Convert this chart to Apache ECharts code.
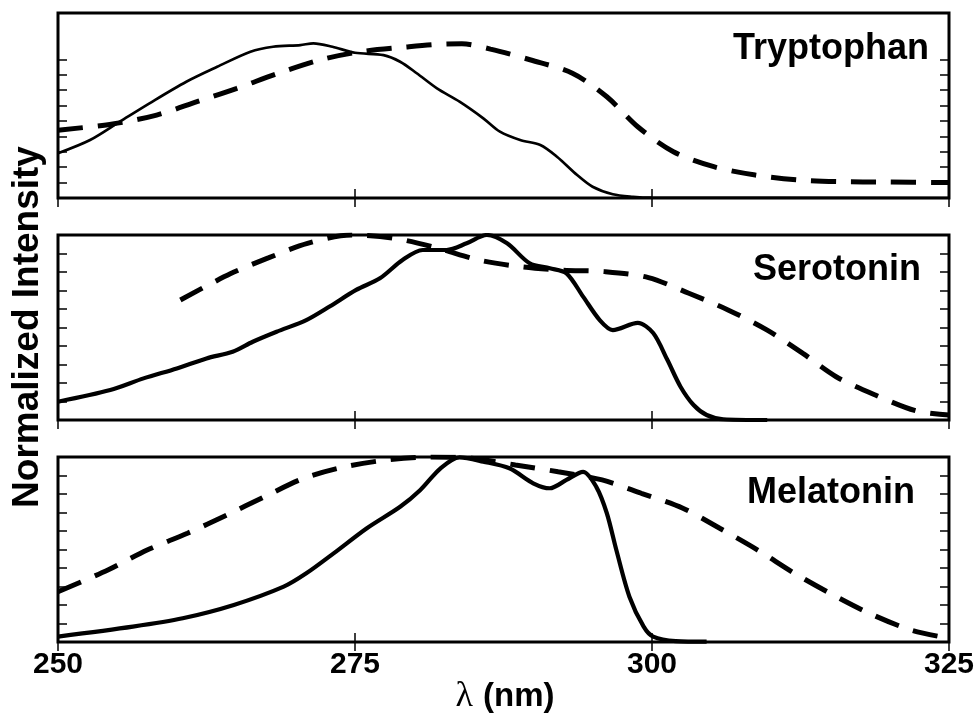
<!DOCTYPE html>
<html lang="en">
<head>
    <meta charset="UTF-8">
    <title>Spectra</title>
    <script src="https://cdn.jsdelivr.net/npm/echarts@6/dist/echarts.min.js"></script>
    <style>
        html, body { margin: 0; padding: 0; background: #fff; }
        #chart_box { width: 977px; height: 717px; }
    </style>
</head>
<body>
<div id="chart_box"></div>
<script>
    // x axis
    var xTicks = [250, 275, 300, 325];

    // Tryptophan
    var trpSolidX = [250, 252.7, 255.2, 257.7, 260.8, 263.4, 266.2, 268.1, 270.4, 271.5, 273.1, 275, 277.4, 278.8, 280.2, 281.9, 283.8, 285.8, 287.2, 288.9, 290.6, 292, 293.7, 295, 296.7, 298.4, 300, 325];
    var trpSolidY = [2.9, 3.76, 4.95, 6.14, 7.54, 8.51, 9.49, 9.81, 9.92, 10.03, 9.81, 9.42, 9.27, 8.84, 8.09, 7.11, 6.25, 5.17, 4.3, 3.76, 3.44, 2.68, 1.49, 0.73, 0.24, 0.08, 0.02, 0];
    var trpDashX = [250, 254.6, 258.3, 261.7, 265, 268.5, 272, 275.5, 279, 282.7, 284, 286.4, 289.8, 293.3, 296.2, 298.8, 301.8, 305.2, 308.7, 312.4, 315.9, 319.6, 325];
    var trpDashY = [4.4, 4.8, 5.38, 6.25, 7.1, 8.08, 8.95, 9.49, 9.77, 9.99, 10.0, 9.66, 8.95, 8.09, 6.57, 4.62, 3.0, 2.03, 1.49, 1.17, 1.06, 1.04, 1.0];

    // Serotonin
    var serSolidX = [250, 254.4, 257.2, 260, 262.5, 264.7, 266.4, 268.4, 270.9, 272.9, 275.1, 277.1, 279, 280.7, 282.7, 284.4, 286.1, 287.8, 289.7, 291.4, 292.8, 294.2, 295.6, 296.7, 298.8, 300.1, 301.3, 302.4, 303.5, 304.6, 306, 309.7];
    var serSolidY = [0.99, 1.62, 2.25, 2.79, 3.33, 3.69, 4.23, 4.77, 5.4, 6.15, 7.03, 7.66, 8.65, 9.19, 9.19, 9.55, 10.0, 9.55, 8.47, 8.2, 7.93, 6.67, 5.4, 4.86, 5.25, 4.7, 3.24, 1.8, 0.81, 0.27, 0.04, 0];
    var serDashX = [260.3, 264.5, 267.7, 271, 274.7, 278.3, 281.9, 285.4, 288.9, 292.5, 296, 299.7, 303.1, 306.4, 309.7, 312.7, 315.5, 318.8, 322.2, 325];
    var serDashY = [6.49, 7.9, 8.76, 9.55, 10.0, 9.82, 9.3, 8.65, 8.29, 8.1, 8.02, 7.7, 6.85, 5.95, 4.86, 3.6, 2.34, 1.35, 0.5, 0.27];

    // Melatonin
    var melSolidX = [250, 256.3, 260.5, 264.8, 269, 270.9, 273.2, 276, 278.8, 280.5, 282.2, 283.8, 285.8, 288, 290, 291.4, 292.8, 294.2, 295.3, 296.2, 297, 298.1, 299.3, 300.1, 302, 304.6];
    var melSolidY = [0.29, 0.83, 1.28, 2.0, 2.99, 3.71, 4.79, 6.15, 7.31, 8.22, 9.39, 9.98, 9.75, 9.39, 8.58, 8.31, 8.76, 9.2, 8.4, 6.96, 4.97, 2.45, 0.83, 0.29, 0.05, 0.02];
    var melDashX = [250, 254.2, 257.5, 260.9, 264.2, 267.4, 270.7, 274.2, 277.7, 281.3, 284.8, 288.5, 292.1, 295.8, 299.1, 302.6, 305.7, 308.9, 312, 315, 318.3, 321.8, 325];
    var melDashY = [2.72, 3.89, 4.97, 5.88, 6.86, 7.86, 8.85, 9.48, 9.84, 10.0, 9.93, 9.57, 9.2, 8.76, 8.04, 7.23, 6.15, 4.97, 3.71, 2.63, 1.55, 0.65, 0.2];

    var yTickVals = [1, 2, 3, 4, 5, 6, 7, 8, 9];
    var panelMax = [12, 10, 10];
    var panelNames = ['Tryptophan', 'Serotonin', 'Melatonin'];

    function zip(xs, ys) {
        var out = [];
        for (var i = 0; i < xs.length; i++) out.push([xs[i], ys[i]]);
        return out;
    }

    var FONT = '"Liberation Sans", Arial, sans-serif';
    var tops = [13, 235, 457];
    var grids = [], xAxes = [], yAxes = [];

    for (var p = 0; p < 3; p++) {
        grids.push({
            left: 58, top: tops[p], width: 891, height: 185,
            show: true, borderColor: '#000', borderWidth: 3, backgroundColor: 'transparent'
        });
        ['bottom', 'top'].forEach(function (pos) {
            var isLabelAxis = (p === 2 && pos === 'bottom');
            xAxes.push({
                type: 'value', gridIndex: p, position: pos,
                min: 250, max: 325, interval: 25,
                axisLine: {show: false},
                splitLine: {show: false},
                axisTick: {show: true, inside: true, length: 9, lineStyle: {color: '#000', width: 1.5}},
                axisLabel: {
                    show: isLabelAxis, margin: 8,
                    fontFamily: FONT, fontWeight: 'bold', fontSize: 30, color: '#000',
                    showMinLabel: true, showMaxLabel: true,
                    customValues: xTicks
                }
            });
        });
        ['left', 'right'].forEach(function (pos) {
            yAxes.push({
                type: 'value', gridIndex: p, position: pos,
                min: 0, max: panelMax[p], interval: 1,
                axisLine: {show: false},
                splitLine: {show: false},
                axisLabel: {show: false},
                axisTick: {show: true, inside: true, length: 9, customValues: yTickVals,
                    lineStyle: {color: '#000', width: 1.5}}
            });
        });
    }

    function lineSeries(panel, data, width, dashed) {
        return {
            type: 'line',
            xAxisIndex: panel * 2,
            yAxisIndex: panel * 2,
            data: data,
            showSymbol: false,
            smooth: 0.3,
            clip: true,
            lineStyle: {color: '#000', width: width, type: dashed ? [25, 15] : 'solid', cap: 'butt'}
        };
    }

    var series = [
        lineSeries(0, zip(trpDashX, trpDashY), 5, true),
        lineSeries(0, zip(trpSolidX, trpSolidY), 2.7, false),
        lineSeries(1, zip(serDashX, serDashY), 5, true),
        lineSeries(1, zip(serSolidX, serSolidY), 4.2, false),
        lineSeries(2, zip(melDashX, melDashY), 5, true),
        lineSeries(2, zip(melSolidX, melSolidY), 4.2, false)
    ];

    var labelPos = [[929, 49], [921, 270], [915, 493]];
    var graphics = panelNames.map(function (name, i) {
        return {
            type: 'text', x: labelPos[i][0], y: labelPos[i][1],
            style: {text: name, fontFamily: FONT, fontWeight: 'bold', fontSize: 36, fill: '#000',
                align: 'right', verticalAlign: 'middle'}
        };
    });
    graphics.push({
        type: 'text', x: 28, y: 327, rotation: Math.PI / 2,
        style: {text: 'Normalized Intensity', fontFamily: FONT, fontWeight: 'bold', fontSize: 37,
            fill: '#000', align: 'center', verticalAlign: 'middle'}
    });
    graphics.push({
        type: 'text', x: 505, y: 697,
        style: {
            text: '{l|λ}{s| }{b|(nm)}', align: 'center', verticalAlign: 'middle',
            rich: {
                l: {fontFamily: '"Liberation Serif", "DejaVu Serif", serif', fontSize: 36, fill: '#000'},
                s: {fontFamily: FONT, fontSize: 30, width: 10},
                b: {fontFamily: FONT, fontWeight: 'bold', fontSize: 33, fill: '#000'}
            }
        }
    });

    var chart = echarts.init(document.getElementById('chart_box'), null, {renderer: 'canvas'});
    chart.setOption({
        animation: false,
        backgroundColor: '#fff',
        grid: grids,
        xAxis: xAxes,
        yAxis: yAxes,
        series: series,
        graphic: graphics
    });
</script>
</body>
</html>
